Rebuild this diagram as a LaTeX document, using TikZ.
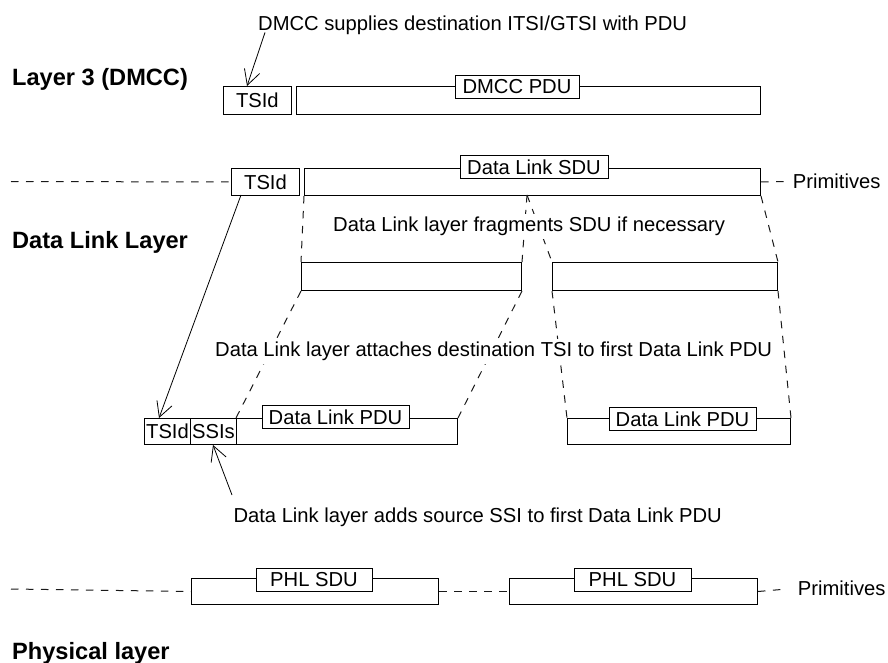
\documentclass[tikz,border=0pt]{standalone}
\usepackage{fontspec}
\setmainfont{Liberation Sans}
\usetikzlibrary{arrows.meta}
\begin{document}
\begin{tikzpicture}[x=1pt,y=-1pt,
  every node/.style={font=\fontsize{20.2}{24}\selectfont},
  box/.style={draw=black, line width=1pt, anchor=north west, inner sep=0pt, minimum width=#1},
  lbl/.style={draw=black, fill=white, line width=1pt, inner xsep=0pt, inner ysep=0pt, minimum height=23pt, minimum width=#1},
  txt/.style={anchor=base west, inner sep=0pt},
  ftxt/.style={anchor=base west, inner xsep=2pt, inner ysep=3pt, fill=white},
  head/.style={anchor=base west, inner sep=0pt, font=\fontsize{23.6}{28}\selectfont\bfseries},
  dsh/.style={draw=black!90, line width=1pt, dash pattern=on 7.5pt off 7.5pt},
  arr/.style={draw=black, line width=0.8pt, -{Straight Barb[length=15pt,width=16pt,line width=0.8pt]}}
]
\useasboundingbox (0,0) rectangle (888,663);

% headings
\node[head] (h1) at (12,86) {Layer 3 (DMCC)};
\node[head] (h2) at (12,248) {Data Link Layer};
\node[head] (h3) at (12,659) {Physical layer};

% Layer 3 row
\node[box=68.3pt, minimum height=28pt] (l3tsid) at (222.7,86) {TSId};
\node[box=464pt, minimum height=28pt] (l3pdu) at (296,86) {};
\node[lbl=124pt] (l3lab) at (517,87) {DMCC PDU};
\node[txt] (t1) at (258,30.5) {DMCC supplies destination ITSI/GTSI with PDU};
\coordinate (c1) at (265,32.5);
\coordinate (c1e) at (247,86);
\draw[arr] (c1) -- (c1e);

% Data link SDU row
\node[box=68pt, minimum height=27pt] (dltsid) at (231,168) {TSId};
\node[box=456pt, minimum height=27pt] (dlsdu) at (304,168) {};
\node[lbl=148pt] (dllab) at (534,167) {Data Link SDU};
\coordinate (dlL) at (11,181.5);
\coordinate (dlR) at (788,181.5);
\draw[dsh] (dlL) -- (dltsid.west);
\draw[dsh] (dlsdu.east) -- (dlR);
\node[txt] (prim1) at (792.7,189) {Primitives};

% fragments
\node[box=220pt, minimum height=28pt] (frag1) at (301,262) {};
\node[box=225pt, minimum height=28pt] (frag2) at (552,262) {};
\coordinate (split) at (527,195);
\draw[dsh] (dlsdu.south west) -- (frag1.north west);
\draw[dsh] (dlsdu.south east) -- (frag2.north east);
\draw[dsh] (split) -- (frag1.north east);
\draw[dsh] (split) -- (frag2.north west);

% Data Link PDU row
\node[box=46pt, minimum height=26pt] (tsid3) at (144,418) {TSId};
\node[box=46pt, minimum height=26pt] (ssi) at (190,418) {SSIs};
\node[box=221pt, minimum height=26pt] (pdu1) at (236,418) {};
\node[lbl=147pt] (pdu1lab) at (335.5,417) {Data Link PDU};
\node[box=223pt, minimum height=26pt] (pdu2) at (567,418) {};
\node[lbl=147pt] (pdu2lab) at (682.5,419) {Data Link PDU};
\draw[dsh] (frag1.south west) -- (pdu1.north west);
\draw[dsh] (frag1.south east) -- (pdu1.north east);
\draw[dsh] (frag2.south west) -- (pdu2.north west);
\draw[dsh] (frag2.south east) -- (pdu2.north east);

% texts with white background (drawn over dashed lines)
\node[ftxt] (t2) at (331,231.5) {Data Link layer fragments SDU if necessary};
\node[ftxt] (t3) at (213,356.5) {Data Link layer attaches destination TSI to first Data Link PDU};

% arrows
\coordinate (c2) at (241,195);
\coordinate (c2e) at (159,418);
\draw[arr] (c2) -- (c2e);
\node[txt] (t4) at (233.3,522.5) {Data Link layer adds source SSI to first Data Link PDU};
\coordinate (c3) at (232,495);
\coordinate (c3e) at (213,445);
\draw[arr] (c3) -- (c3e);

% PHL row
\node[box=247pt, minimum height=26pt] (phl1) at (191,578) {};
\node[lbl=116pt] (phl1lab) at (314,580) {PHL SDU};
\node[box=248pt, minimum height=26pt] (phl2) at (509,578) {};
\node[lbl=117pt] (phl2lab) at (632.5,580) {PHL SDU};
\coordinate (phL) at (11,589);
\coordinate (phR) at (787,589);
\draw[dsh] (phL) -- (phl1.west);
\draw[dsh] (phl1.east) -- (phl2.west);
\draw[dsh] (phl2.east) -- (phR);
\node[txt] (prim2) at (797.7,595) {Primitives};
\end{tikzpicture}
\end{document}
